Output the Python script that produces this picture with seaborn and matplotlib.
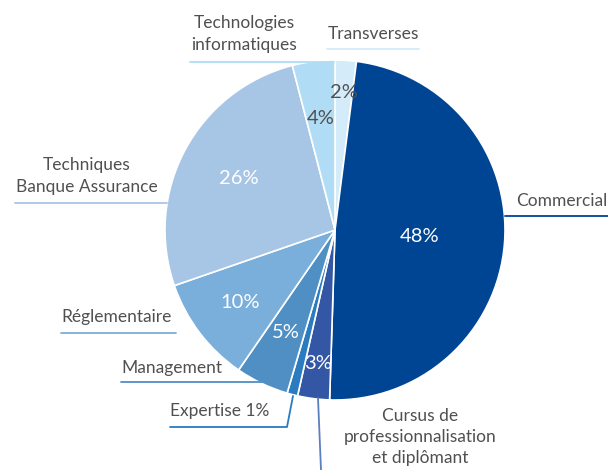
import numpy as np
import matplotlib
matplotlib.use("Agg")
import matplotlib.pyplot as plt
import seaborn as sns

categories = ["Transverses", "Commercial", "Cursus de\nprofessionnalisation\net diplômant",
              "Expertise", "Management", "Réglementaire",
              "Techniques\nBanque Assurance", "Technologies\ninformatiques"]
values = [2, 48, 3, 1, 5, 10, 26, 4]
pct_labels = ["2%", "48%", "3%", "1%", "5%", "10%", "26%", "4%"]
colors = ["#D4EBFA", "#004494", "#3357A5", "#2A7BC0", "#4F8FC4", "#7AAFDB", "#A7C6E6", "#B0DDF5"]

sns.set_theme(style="white")
plt.rcParams['font.family'] = ['Lato', 'DejaVu Sans']

W, H = 608, 470
fig = plt.figure(figsize=(W / 100, H / 100), dpi=100)
cx, cy, R = 335, 230, 170
ax = fig.add_axes([(cx - R) / W, (H - cy - R) / H, 2 * R / W, 2 * R / H])
pal = sns.color_palette(colors)
wedges, _ = ax.pie(values, colors=pal, startangle=90, counterclock=False,
                   wedgeprops=dict(edgecolor="white", linewidth=1.2))
ax.set_xlim(-1, 1)
ax.set_ylim(-1, 1)
ax.set_aspect("equal")
ax.axis("off")

# percentage labels inside slices
radii = [0.81, 0.5, 0.79, None, 0.67, 0.7, 0.64, 0.66]
tcolors = ["#505050", "white", "white", None, "white", "white", "white", "#505050"]
for w, lab, r, tc in zip(wedges, pct_labels, radii, tcolors):
    if r is None:
        continue
    a = np.deg2rad((w.theta1 + w.theta2) / 2)
    ax.text(r * np.cos(a), r * np.sin(a), lab, ha="center", va="center",
            color=tc, fontsize=14.5)

def fx(x):
    return x / W

def fy(y):
    return 1 - y / H

TXT = "#505050"
FS = 12.5

def hline(x0, x1, y, c):
    fig.add_artist(plt.Line2D([fx(x0), fx(x1)], [fy(y), fy(y)], color=c, lw=1.3,
                              transform=fig.transFigure))

def line(xs, ys, c):
    fig.add_artist(plt.Line2D([fx(x) for x in xs], [fy(y) for y in ys], color=c, lw=1.3,
                              transform=fig.transFigure))

# Technologies informatiques
fig.text(fx(244), fy(34), categories[7], ha="center", va="center", color=TXT,
         fontsize=FS, linespacing=1.4)
hline(190, 334, 62, colors[7])
# Transverses
fig.text(fx(373), fy(34), categories[0], ha="center", va="center", color=TXT, fontsize=FS)
hline(327, 419, 49, colors[0])
# Commercial
fig.text(fx(607), fy(201), categories[1], ha="right", va="center", color=TXT, fontsize=FS)
hline(505, 608, 216, colors[1])
# Techniques Banque Assurance
fig.text(fx(87), fy(176), categories[6], ha="center", va="center", color=TXT,
         fontsize=FS, linespacing=1.4)
hline(15, 167, 203, colors[6])
# Réglementaire
fig.text(fx(61), fy(317), categories[5], ha="left", va="center", color=TXT, fontsize=FS)
hline(61, 176, 333, colors[5])
# Management
fig.text(fx(121), fy(368), categories[4], ha="left", va="center", color=TXT, fontsize=FS)
hline(121, 262, 382, colors[4])
# Expertise
fig.text(fx(170), fy(411), categories[3] + " " + pct_labels[3], ha="left", va="center",
         color=TXT, fontsize=FS)
line([170, 287, 293], [427, 427, 396], colors[3])
# Cursus
fig.text(fx(420), fy(437), categories[2], ha="center", va="center", color=TXT,
         fontsize=FS, linespacing=1.4)
line([318, 321], [398, 470], "#5B7FC0")

fig.savefig("out.png", dpi=100)
